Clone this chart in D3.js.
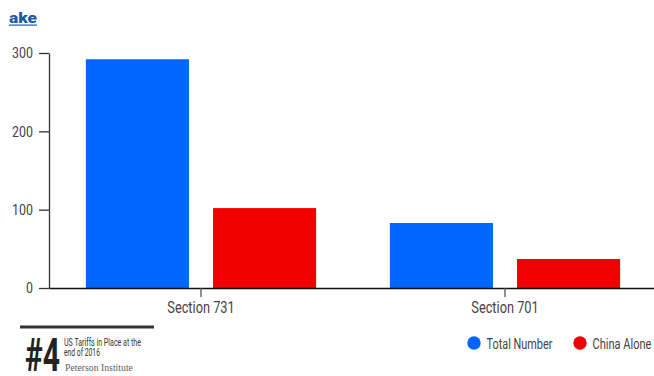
<!DOCTYPE html>
<html><head><meta charset="utf-8">
<script src="https://cdn.jsdelivr.net/npm/d3@7"></script>
<style>
body{margin:0;background:#fff;}
svg{display:block;}
text{font-family:"Roboto","Noto Sans",sans-serif;}
</style></head>
<body>
<svg id="chart" width="654" height="376"></svg>
<script>
const categories = ["Section 731", "Section 701"];
const seriesNames = ["Total Number", "China Alone"];
const totalNumber = [292, 83];
const chinaAlone = [102, 37];
const yTicks = [0, 100, 200, 300];
const colors = ["#0066ff", "#f20000"];

const svg = d3.select("#chart");
const mLeft = 49, mRight = 657, mTop = 53, mBottom = 288;

// place a text condensed to a target width via a transform (reference uses a condensed face)
function narrowText(parent, x, y, size, str, width, opts = {}) {
  const t = parent.append("text").attr("font-size", size).text(str);
  if (opts.family) t.style("font-family", opts.family);
  if (opts.weight) t.attr("font-weight", opts.weight);
  t.attr("fill", opts.fill || "#444");
  const l = t.node().getComputedTextLength();
  const sx = width / l;
  t.attr("transform", `translate(${x},${y}) scale(${sx},1)`);
  return t;
}

const x0 = d3.scaleBand().domain(categories).range([mLeft, mRight]).paddingInner(0).paddingOuter(0);
const x1 = d3.scaleBand().domain(seriesNames).range([0, x0.bandwidth()]).paddingInner(0.189).paddingOuter(0.29);
const y = d3.scaleLinear().domain([0, 300]).range([mBottom, mTop]);

const data = categories.map((c, i) => ({cat: c, vals: [totalNumber[i], chinaAlone[i]]}));

// bars
const g = svg.append("g");
data.forEach(d => {
  d.vals.forEach((v, j) => {
    g.append("rect")
      .attr("x", x0(d.cat) + x1(seriesNames[j]))
      .attr("y", y(v))
      .attr("width", x1.bandwidth())
      .attr("height", y(0) - y(v))
      .attr("fill", colors[j]);
  });
});

// y axis
const yAxis = svg.append("g").attr("transform", `translate(${mLeft},0)`)
  .call(d3.axisLeft(y).tickValues(yTicks).tickSize(10).tickPadding(6).tickSizeOuter(0));
yAxis.select(".domain").attr("stroke", "#333").attr("stroke-width", 1.3);
yAxis.selectAll(".tick line").attr("stroke", "#333").attr("stroke-width", 1.3);
yAxis.selectAll(".tick text").attr("font-size", 15.5).attr("fill", "#444").style("font-family", "Roboto")
  .attr("x", null).attr("transform", "translate(-16,0) scale(0.8,1)");

// x axis
const xAxis = svg.append("g").attr("transform", `translate(0,${mBottom})`)
  .call(d3.axisBottom(x0).tickSize(9).tickPadding(5).tickSizeOuter(0));
xAxis.select(".domain").attr("stroke", "#111").attr("stroke-width", 1.6);
xAxis.selectAll(".tick line").attr("stroke", "#555").attr("stroke-width", 1.3);
xAxis.selectAll(".tick text").attr("font-size", 16).attr("fill", "#444").style("font-family", "Roboto")
  .attr("transform", "scale(0.8,1)");

// legend
const legX = [474, 580];
const legW = [66, 59];
seriesNames.forEach((s, j) => {
  svg.append("circle").attr("cx", legX[j]).attr("cy", 343).attr("r", 6.7).attr("fill", colors[j]);
  narrowText(svg, legX[j] + 12.5, 349.3, 15.5, s, legW[j]);
});

// logo
const logo = svg.append("g");
narrowText(logo, 9, 23, 14, "ake", 28, {weight: "900", fill: "#1c5aa8"});
logo.append("rect").attr("x", 9).attr("y", 24.5).attr("width", 28).attr("height", 1.2).attr("fill", "#1c5aa8");

// footer badge
svg.append("rect").attr("x", 20).attr("y", 325.5).attr("width", 134).attr("height", 3).attr("fill", "#333");
narrowText(svg, 25, 371, 46, "#4", 35, {weight: "bold", fill: "#222"});
narrowText(svg, 64, 346, 10, "US Tariffs in Place at the", 77, {fill: "#333"});
narrowText(svg, 64, 356, 10, "end of 2016", 36, {fill: "#333"});
narrowText(svg, 65, 371, 10.5, "Peterson Institute", 68,
  {fill: "#6a5a60", family: '"Liberation Serif","DejaVu Serif",serif'});
</script>
</body></html>
